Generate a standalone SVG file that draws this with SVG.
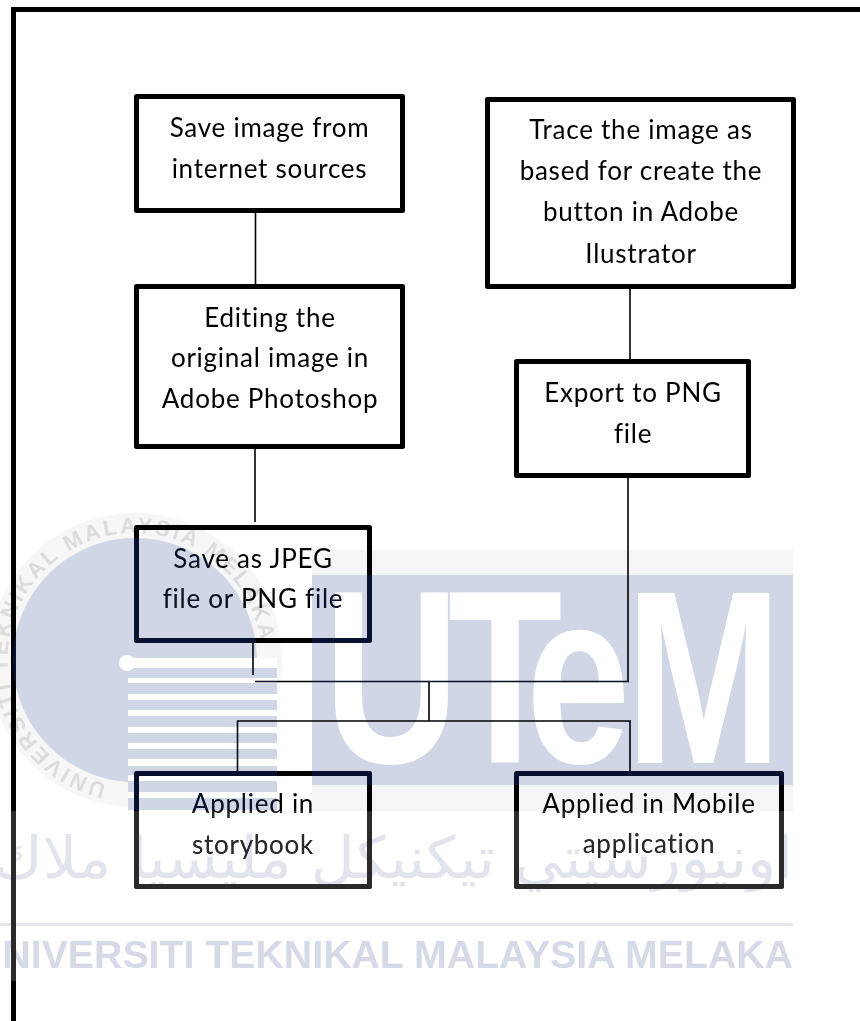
<svg xmlns="http://www.w3.org/2000/svg" width="860" height="1021" viewBox="0 0 860 1021">
<style>
.box{fill:none;stroke:#000;stroke-width:5;stroke-linejoin:round}
.t{font-family:Lato,"Liberation Sans",sans-serif;font-size:26px;letter-spacing:.75px;font-variant-ligatures:none;fill:#000;text-anchor:middle}
.c{fill:none;stroke:#000;stroke-width:1.6}
.wm{font-family:"Liberation Sans",Arial,sans-serif;font-weight:700}
</style>
<defs><path id="ringPath" d="M106.4 783.7A127 127 0 1 1 178 779.3"/></defs>
<rect width="860" height="1021" fill="#fff"/>
<g id="watermark">
<circle cx="135" cy="660" r="147" fill="#f6f6f7"/>
<circle cx="135" cy="660" r="122" fill="#d0d6e6"/>
<rect x="128" y="658" width="149" height="10" fill="#fff"/>
<rect x="128" y="668" width="149" height="142" fill="#d0d6e6"/>
<path d="M128 678h149v5h-149zM128 694h149v6h-149zM128 710h149v6h-149zM128 727h149v6h-149zM128 743h149v6h-149zM128 759h149v7h-149zM128 775h149v6h-149zM128 792h149v6h-149z" fill="#fff"/>
<circle cx="127" cy="663" r="8" fill="#fff"/>
<text class="wm" font-size="22" fill="#dcdcdf"><textPath href="#ringPath" textLength="550">UNIVERSITI TEKNIKAL MALAYSIA MELAKA</textPath></text>
<rect x="312" y="550" width="481" height="261" fill="#f5f5f6"/>
<rect x="312" y="575" width="481" height="210" fill="#d0d6e6"/>
<text class="wm" transform="translate(0,763) scale(.76,1)" x="426 589 692 823" y="0" font-size="247" fill="#fff">UTeM</text>
<text x="793" y="878" font-family="'DejaVu Sans',sans-serif" font-size="58" fill="#e1e4ec" text-anchor="start" direction="rtl" textLength="800" lengthAdjust="spacingAndGlyphs">اونيورسيتي تيكنيكل مليسيا ملاك</text>
<rect x="0" y="923" width="793" height="3" fill="#e2e4ea"/>
<text class="wm" x="-26" y="968" font-size="39" fill="#d6dae7" textLength="819" lengthAdjust="spacingAndGlyphs">UNIVERSITI TEKNIKAL MALAYSIA MELAKA</text>
</g>
<g id="frame"><path d="M13.5 1021V9.5H860" fill="none" stroke="#000" stroke-width="5"/></g>
<g id="connectors">
<path class="c" d="M255.5 213V284"/>
<path class="c" d="M255 449V522"/>
<path class="c" d="M253 643V675"/>
<path class="c" d="M630 289V359"/>
<path class="c" d="M628 478V682"/>
<path class="c" d="M255 681.5H629"/>
<path class="c" d="M429 681.5V721"/>
<path class="c" d="M237 721H631"/>
<path class="c" d="M237.5 721V771"/>
<path class="c" d="M630 721V771"/>
</g>
<g id="n1"><rect class="box" x="136.5" y="96.5" width="266" height="114"/><text class="t" x="269.5" y="137">Save image from</text><text class="t" x="269.5" y="178">internet sources</text></g>
<g id="n2"><rect class="box" x="136.5" y="286.5" width="266" height="160"/><text class="t" x="270" y="327">Editing the</text><text class="t" x="270" y="367">original image in</text><text class="t" x="270" y="408">Adobe Photoshop</text></g>
<g id="n3"><rect class="box" x="136.5" y="527.5" width="233" height="113"/><text class="t" x="253" y="568">Save as JPEG</text><text class="t" x="253" y="608">file or PNG file</text></g>
<g id="n4"><rect class="box" x="487.5" y="99.5" width="306" height="187"/><text class="t" x="641" y="139">Trace the image as</text><text class="t" x="641" y="180">based for create the</text><text class="t" x="641" y="221">button in Adobe</text><text class="t" x="641" y="263">Ilustrator</text></g>
<g id="n5"><rect class="box" x="516.5" y="361.5" width="232" height="114"/><text class="t" x="633" y="402">Export to PNG</text><text class="t" x="633" y="443">file</text></g>
<g id="n6"><rect class="box" x="136.5" y="773.5" width="233" height="113"/><text class="t" x="253" y="813">Applied in</text><text class="t" x="253" y="854">storybook</text></g>
<g id="n7"><rect class="box" x="516.5" y="773.5" width="265" height="113"/><text class="t" x="649" y="813">Applied in Mobile</text><text class="t" x="649" y="853">application</text></g>
<g id="tint" style="mix-blend-mode:lighten">
<circle cx="135" cy="660" r="122" fill="#0a1030"/>
<rect x="128" y="668" width="149" height="142" fill="#0a1030"/>
<rect x="312" y="575" width="481" height="210" fill="#0a1030"/>
<rect x="0" y="811" width="793" height="170" fill="#2a2a2a"/>
</g>
</svg>
